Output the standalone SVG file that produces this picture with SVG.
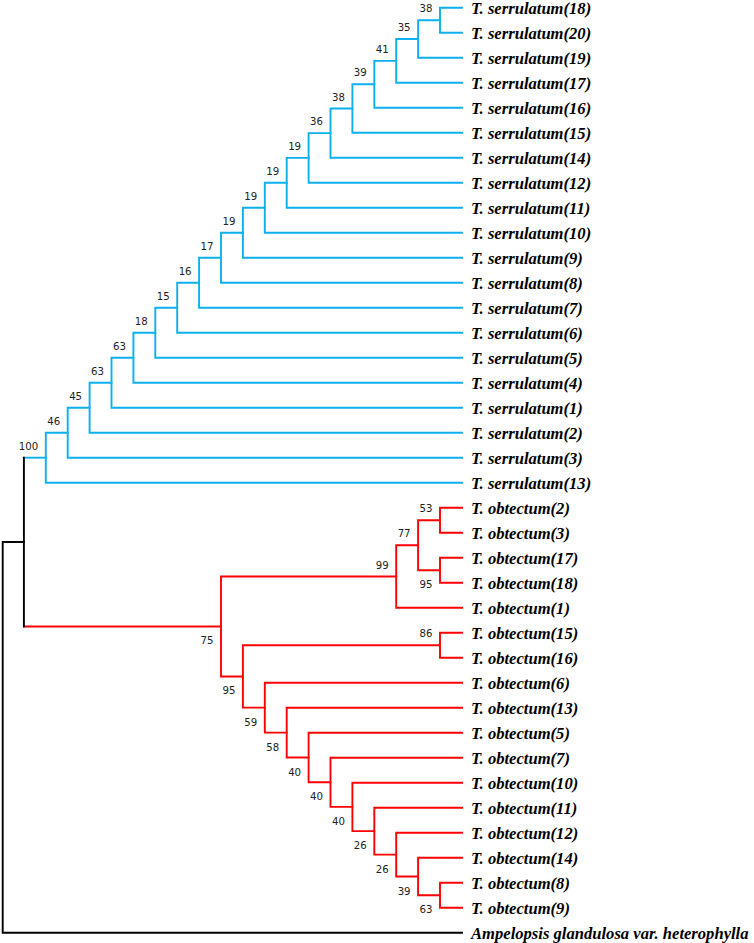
<svg xmlns="http://www.w3.org/2000/svg" width="754" height="943" viewBox="0 0 754 943">
<style>
.b{fill:none;stroke:#0AB0F0;stroke-width:1.9;stroke-linecap:square}
.r{fill:none;stroke:#FF0000;stroke-width:1.9;stroke-linecap:square}
.k{fill:none;stroke:#000;stroke-width:1.9;stroke-linecap:square}
.leaf{font-family:"Liberation Serif","Times New Roman",serif;font-weight:bold;font-style:italic;font-size:16.6px;fill:#000}
.bs{font-family:"DejaVu Sans",Tahoma,sans-serif;font-size:10.2px;fill:#222;text-anchor:end}
</style>
<rect width="754" height="943" fill="#fff"/>
<g id="connectors">
<path class="b" d="M462 7.7H440V32.7H462"/>
<path class="b" d="M440 20.2H418.1V57.7H462"/>
<path class="b" d="M418.1 38.95H396.2V82.7H462"/>
<path class="b" d="M396.2 60.83H374.3V107.7H462"/>
<path class="b" d="M374.3 84.26H352.4V132.7H462"/>
<path class="b" d="M352.4 108.48H330.5V157.7H462"/>
<path class="b" d="M330.5 133.09H308.6V182.7H462"/>
<path class="b" d="M308.6 157.9H286.7V207.7H462"/>
<path class="b" d="M286.7 182.8H264.8V232.7H462"/>
<path class="b" d="M264.8 207.75H242.9V257.7H462"/>
<path class="b" d="M242.9 232.72H221V282.7H462"/>
<path class="b" d="M221 257.71H199.1V307.7H462"/>
<path class="b" d="M199.1 282.71H177.2V332.7H462"/>
<path class="b" d="M177.2 307.7H155.3V357.7H462"/>
<path class="b" d="M155.3 332.7H133.4V382.7H462"/>
<path class="b" d="M133.4 357.7H111.5V407.7H462"/>
<path class="b" d="M111.5 382.7H89.6V432.7H462"/>
<path class="b" d="M89.6 407.7H67.7V457.7H462"/>
<path class="b" d="M67.7 432.7H45.8V482.7H462"/>
<path class="b" d="M23.9 457.7H45.8"/>
<path class="r" d="M462 507.7H440V532.7H462"/>
<path class="r" d="M462 557.7H440V582.7H462"/>
<path class="r" d="M440 520.2H418.1V570.2H440"/>
<path class="r" d="M418.1 545.2H396.2V607.7H462"/>
<path class="r" d="M462 632.7H440V657.7H462"/>
<path class="r" d="M462 882.7H440V907.7H462"/>
<path class="r" d="M462 857.7H418.1V895.2H440"/>
<path class="r" d="M462 832.7H396.2V876.45H418.1"/>
<path class="r" d="M462 807.7H374.3V854.58H396.2"/>
<path class="r" d="M462 782.7H352.4V831.14H374.3"/>
<path class="r" d="M462 757.7H330.5V806.92H352.4"/>
<path class="r" d="M462 732.7H308.6V782.31H330.5"/>
<path class="r" d="M462 707.7H286.7V757.5H308.6"/>
<path class="r" d="M462 682.7H264.8V732.6H286.7"/>
<path class="r" d="M440 645.2H242.9V707.65H264.8"/>
<path class="r" d="M396.2 576.45H221V676.43H242.9"/>
<path class="r" d="M23.9 626.44H221"/>
<path class="k" d="M23.9 457.7V626.44"/>
<path class="k" d="M23.9 542.07H2.7V932.7H462"/>
</g>
<g id="leaf-S18"><text class="leaf" x="471" y="13.7">T. serrulatum(18)</text></g>
<g id="leaf-S20"><text class="leaf" x="471" y="38.7">T. serrulatum(20)</text></g>
<g id="leaf-S19"><text class="leaf" x="471" y="63.7">T. serrulatum(19)</text></g>
<g id="leaf-S17"><text class="leaf" x="471" y="88.7">T. serrulatum(17)</text></g>
<g id="leaf-S16"><text class="leaf" x="471" y="113.7">T. serrulatum(16)</text></g>
<g id="leaf-S15"><text class="leaf" x="471" y="138.7">T. serrulatum(15)</text></g>
<g id="leaf-S14"><text class="leaf" x="471" y="163.7">T. serrulatum(14)</text></g>
<g id="leaf-S12"><text class="leaf" x="471" y="188.7">T. serrulatum(12)</text></g>
<g id="leaf-S11"><text class="leaf" x="471" y="213.7">T. serrulatum(11)</text></g>
<g id="leaf-S10"><text class="leaf" x="471" y="238.7">T. serrulatum(10)</text></g>
<g id="leaf-S9"><text class="leaf" x="471" y="263.7">T. serrulatum(9)</text></g>
<g id="leaf-S8"><text class="leaf" x="471" y="288.7">T. serrulatum(8)</text></g>
<g id="leaf-S7"><text class="leaf" x="471" y="313.7">T. serrulatum(7)</text></g>
<g id="leaf-S6"><text class="leaf" x="471" y="338.7">T. serrulatum(6)</text></g>
<g id="leaf-S5"><text class="leaf" x="471" y="363.7">T. serrulatum(5)</text></g>
<g id="leaf-S4"><text class="leaf" x="471" y="388.7">T. serrulatum(4)</text></g>
<g id="leaf-S1"><text class="leaf" x="471" y="413.7">T. serrulatum(1)</text></g>
<g id="leaf-S2"><text class="leaf" x="471" y="438.7">T. serrulatum(2)</text></g>
<g id="leaf-S3"><text class="leaf" x="471" y="463.7">T. serrulatum(3)</text></g>
<g id="leaf-S13"><text class="leaf" x="471" y="488.7">T. serrulatum(13)</text></g>
<g id="leaf-O2"><text class="leaf" x="471" y="513.7">T. obtectum(2)</text></g>
<g id="leaf-O3"><text class="leaf" x="471" y="538.7">T. obtectum(3)</text></g>
<g id="leaf-O17"><text class="leaf" x="471" y="563.7">T. obtectum(17)</text></g>
<g id="leaf-O18"><text class="leaf" x="471" y="588.7">T. obtectum(18)</text></g>
<g id="leaf-O1"><text class="leaf" x="471" y="613.7">T. obtectum(1)</text></g>
<g id="leaf-O15"><text class="leaf" x="471" y="638.7">T. obtectum(15)</text></g>
<g id="leaf-O16"><text class="leaf" x="471" y="663.7">T. obtectum(16)</text></g>
<g id="leaf-O6"><text class="leaf" x="471" y="688.7">T. obtectum(6)</text></g>
<g id="leaf-O13"><text class="leaf" x="471" y="713.7">T. obtectum(13)</text></g>
<g id="leaf-O5"><text class="leaf" x="471" y="738.7">T. obtectum(5)</text></g>
<g id="leaf-O7"><text class="leaf" x="471" y="763.7">T. obtectum(7)</text></g>
<g id="leaf-O10"><text class="leaf" x="471" y="788.7">T. obtectum(10)</text></g>
<g id="leaf-O11"><text class="leaf" x="471" y="813.7">T. obtectum(11)</text></g>
<g id="leaf-O12"><text class="leaf" x="471" y="838.7">T. obtectum(12)</text></g>
<g id="leaf-O14"><text class="leaf" x="471" y="863.7">T. obtectum(14)</text></g>
<g id="leaf-O8"><text class="leaf" x="471" y="888.7">T. obtectum(8)</text></g>
<g id="leaf-O9"><text class="leaf" x="471" y="913.7">T. obtectum(9)</text></g>
<g id="leaf-Amp"><text class="leaf" x="471" y="938.7">Ampelopsis glandulosa var. heterophylla</text></g>
<g id="node-s1"><text class="bs" x="432.5" y="12.2">38</text></g>
<g id="node-s2"><text class="bs" x="410.6" y="31">35</text></g>
<g id="node-s3"><text class="bs" x="388.7" y="52.8">41</text></g>
<g id="node-s4"><text class="bs" x="366.8" y="76.3">39</text></g>
<g id="node-s5"><text class="bs" x="344.9" y="100.5">38</text></g>
<g id="node-s6"><text class="bs" x="323" y="125.1">36</text></g>
<g id="node-s7"><text class="bs" x="301.1" y="149.9">19</text></g>
<g id="node-s8"><text class="bs" x="279.2" y="174.8">19</text></g>
<g id="node-s9"><text class="bs" x="257.3" y="199.8">19</text></g>
<g id="node-s10"><text class="bs" x="235.4" y="224.7">19</text></g>
<g id="node-s11"><text class="bs" x="213.5" y="249.7">17</text></g>
<g id="node-s12"><text class="bs" x="191.6" y="274.7">16</text></g>
<g id="node-s13"><text class="bs" x="169.7" y="299.7">15</text></g>
<g id="node-s14"><text class="bs" x="147.8" y="324.7">18</text></g>
<g id="node-s15"><text class="bs" x="125.9" y="349.7">63</text></g>
<g id="node-s16"><text class="bs" x="104" y="374.7">63</text></g>
<g id="node-s17"><text class="bs" x="82.1" y="399.7">45</text></g>
<g id="node-s18"><text class="bs" x="60.2" y="424.7">46</text></g>
<g id="node-s19"><text class="bs" x="38.3" y="449.7">100</text></g>
<g id="node-o53"><text class="bs" x="432.5" y="512.2">53</text></g>
<g id="node-o95a"><text class="bs" x="432.5" y="588.2">95</text></g>
<g id="node-o77"><text class="bs" x="410.6" y="537.2">77</text></g>
<g id="node-o99"><text class="bs" x="388.7" y="568.5">99</text></g>
<g id="node-o86"><text class="bs" x="432.5" y="637.2">86</text></g>
<g id="node-o75"><text class="bs" x="213.5" y="644.4">75</text></g>
<g id="node-o95b"><text class="bs" x="235.4" y="694.4">95</text></g>
<g id="node-o59"><text class="bs" x="257.3" y="725.6">59</text></g>
<g id="node-o58"><text class="bs" x="279.2" y="750.6">58</text></g>
<g id="node-o40c"><text class="bs" x="301.1" y="775.5">40</text></g>
<g id="node-o40b"><text class="bs" x="323" y="800.3">40</text></g>
<g id="node-o40a"><text class="bs" x="344.9" y="824.9">40</text></g>
<g id="node-o26b"><text class="bs" x="366.8" y="849.1">26</text></g>
<g id="node-o26a"><text class="bs" x="388.7" y="872.6">26</text></g>
<g id="node-o39"><text class="bs" x="410.6" y="894.5">39</text></g>
<g id="node-o63"><text class="bs" x="432.5" y="913.2">63</text></g>
</svg>
